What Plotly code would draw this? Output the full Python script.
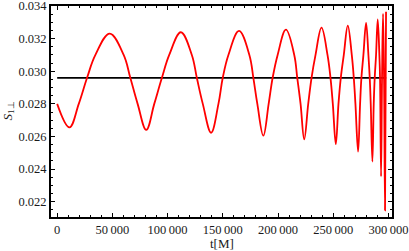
import plotly.graph_objects as go

# data (t in M, S_1perp)
t_vals = [0, 11100, 19550, 27080, 34610, 47560, 60210, 66240, 72860, 80690,
          87920, 94850, 101480, 112010, 121950, 126470, 131890, 139420, 146050,
          149960, 155080, 164720, 174060, 177670, 181290, 186710, 191530, 195140,
          199660, 207190, 214720, 217430, 220440, 223750, 227370, 230380, 233990,
          239410, 244830, 247540, 249650, 252360, 254770, 256880, 259590, 263200,
          266820, 268630, 270130, 272540, 274350, 275550, 277360, 279770, 281880,
          283080, 283990, 285490, 286700, 287600, 288810, 290320, 291820, 292420,
          293330, 294230, 295130, 296040, 296940, 297850]
s_vals = [0.02800, 0.02656, 0.02800, 0.02960, 0.03100, 0.03231, 0.03100, 0.02960,
          0.02800, 0.02640, 0.02800, 0.02960, 0.03100, 0.03239, 0.03100, 0.02960,
          0.02800, 0.02623, 0.02800, 0.02960, 0.03100, 0.03247, 0.03100, 0.02960,
          0.02800, 0.02605, 0.02800, 0.02960, 0.03100, 0.03255, 0.03100, 0.02960,
          0.02800, 0.02583, 0.02800, 0.02960, 0.03100, 0.03267, 0.03100, 0.02960,
          0.02800, 0.02553, 0.02800, 0.02960, 0.03100, 0.03280, 0.03100, 0.02960,
          0.02800, 0.02507, 0.02800, 0.02960, 0.03100, 0.03296, 0.03100, 0.02960,
          0.02800, 0.02446, 0.02800, 0.02960, 0.03100, 0.03318, 0.03100, 0.02960,
          0.02355, 0.02960, 0.03353, 0.02960, 0.02147, 0.03365]
mean_t = [0, 298000]
mean_s = [0.029597, 0.029597]

x_tick_vals = [0, 50000, 100000, 150000, 200000, 250000, 300000]
x_tick_text = ["0", "50\u2009000", "100\u2009000", "150\u2009000", "200\u2009000",
               "250\u2009000", "300\u2009000"]
y_tick_vals = [0.022, 0.024, 0.026, 0.028, 0.030, 0.032, 0.034]
y_tick_text = ["0.022", "0.024", "0.026", "0.028", "0.030", "0.032", "0.034"]

font = "Liberation Serif"

fig = go.Figure()
fig.add_trace(go.Scatter(x=mean_t, y=mean_s, mode="lines",
                         line=dict(color="black", width=1.6), hoverinfo="skip"))
fig.add_trace(go.Scatter(x=t_vals, y=s_vals, mode="lines",
                         line=dict(color="#ff0000", width=1.8, shape="spline", smoothing=1.1)))

axis_common = dict(showline=True, linecolor="black", linewidth=2, mirror="allticks",
                   ticks="inside", ticklen=4, tickwidth=1, tickcolor="black",
                   showgrid=False, zeroline=False, automargin=False,
                   ticklabeloverflow="allow",
                   tickfont=dict(family=font, size=12.5, color="#1a1a1a"))

fig.update_xaxes(range=[-5600, 303250], tickvals=x_tick_vals, ticktext=x_tick_text,
                 minor=dict(dtick=10000, tick0=0, ticks="inside", ticklen=2, tickcolor="black"),
                 **axis_common)
fig.update_yaxes(range=[0.021064, 0.0340008], tickvals=y_tick_vals, ticktext=y_tick_text,
                 minor=dict(dtick=0.0005, tick0=0.022, ticks="inside", ticklen=2, tickcolor="black"),
                 **axis_common)

fig.add_annotation(text="t[M]", xref="paper", yref="paper", x=0.5, y=0, yshift=-26,
                   showarrow=False, yanchor="middle",
                   font=dict(family=font, size=13, color="#1a1a1a"))
fig.add_annotation(text="<i>S</i><sub>1\u22a5</sub>", xref="paper", yref="paper", x=0, y=0.5,
                   xshift=-43, showarrow=False, textangle=-90, xanchor="center",
                   font=dict(family=font, size=13, color="#1a1a1a"))

fig.update_layout(width=409, height=251, showlegend=False,
                  margin=dict(l=50.5, r=16.7, t=5.6, b=33.7),
                  plot_bgcolor="white", paper_bgcolor="white")

fig.write_html("out.html", config={"displayModeBar": False},
               post_script="document.body.style.margin='0';document.body.style.overflow='hidden';")
